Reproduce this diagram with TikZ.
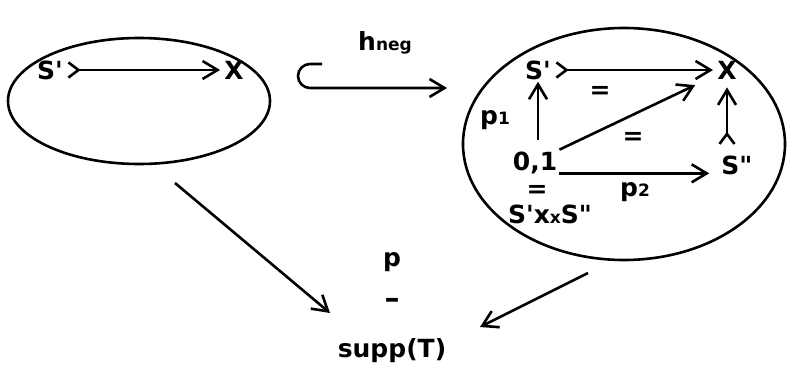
\documentclass[tikz,border=0pt]{standalone}
\usepackage{fontspec}
\setmainfont{DejaVu Sans}
\usetikzlibrary{shapes.geometric, arrows.meta, positioning}

\begin{document}
\begin{tikzpicture}[x=1pt, y=-1pt, line width=2.6pt,
  lbl/.style={font=\bfseries\fontsize{25}{28}\selectfont, inner sep=1pt},
  arr/.style={-{Straight Barb[length=15pt, width=18pt]}},
  mono/.style={{Straight Barb[reversed, length=10pt, width=15pt]}-{Straight Barb[length=15pt, width=18pt]}}]
\useasboundingbox (0,0) rectangle (787,372);
\newcommand{\sm}[1]{{\fontsize{17}{18}\selectfont #1}}

% left blob
\node[ellipse, draw, minimum width=262pt, minimum height=126pt] (left) at (139,101) {};
\node[lbl] (ls) at (50,70) {S\textquotesingle};
\node[lbl] (lx) at (234,70) {X};
\draw[mono, shorten <=2pt, shorten >=2pt] (ls) -- (lx);

% inclusion
\node[lbl] (hneg) at (385,43) {h\sm{neg}};
\coordinate (hs) at (322,64);
\coordinate (he) at (447,88);
\draw[arr] (hs) -- ++(-12,0) arc[start angle=270, end angle=90, radius=12] -- (he);

% right blob
\node[ellipse, draw, minimum width=322pt, minimum height=232pt] (right) at (624,144) {};
\node[lbl] (rs) at (538,70) {S\textquotesingle};
\node[lbl] (rx) at (727,70) {X};
\node[lbl] (o) at (535,163) {0,1};
\node[lbl] (rss) at (737,165) {S\textquotedbl};
\node[lbl] (prod) at (550,214) {S\textquotesingle x\sm{x}S\textquotedbl};
\node[lbl] (eq1) at (600,92) {=};
\node[lbl] (eq2) at (633,138) {=};
\node[lbl] (eq3) at (537,191) {=};
\node[lbl] (p1) at (495,120) {p\sm{1}};
\node[lbl] (p2) at (635,192) {p\sm{2}};
\draw[mono, shorten <=2pt, shorten >=2pt] (rs) -- (rx);
\draw[arr, shorten <=10pt] (o.north -| rs) -- (rs);
\draw[arr, shorten >=22pt] (o.north east) -- (rx);
\draw[arr, shorten >=10pt] ([yshift=3pt]o.south east) -- ([yshift=3pt]o.south east -| rss.west);
\draw[mono, shorten <=8pt, shorten >=6pt] (rss.north -| rx.south) -- (rx.south);

% target
\node[lbl] (p) at (392,262) {p};
\node[lbl, font=\bfseries\fontsize{30}{30}\selectfont] (bar) at (392,303) {\textendash};
\node[lbl] (supp) at (392,351) {supp(T)};
\coordinate (la) at (175,183);
\coordinate (lb) at (330,313);
\coordinate (ra) at (588,273);
\coordinate (rb) at (480,327);
\draw[arr] (la) -- (lb);
\draw[arr] (ra) -- (rb);
\end{tikzpicture}
\end{document}
